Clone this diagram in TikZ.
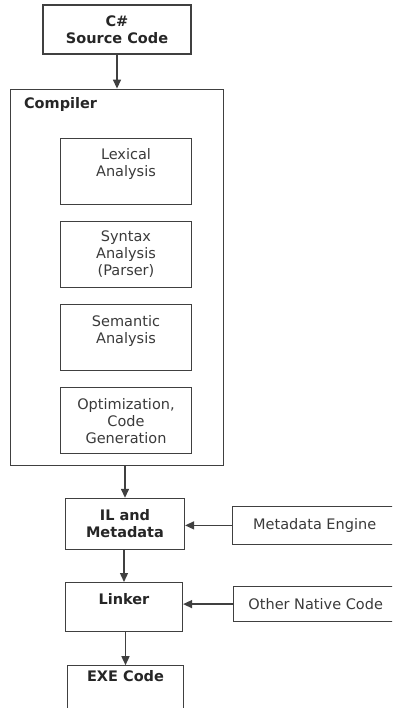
\documentclass[tikz,border=0pt]{standalone}
\usepackage{fontspec}
\setmainfont{DejaVu Sans}
\usepackage{xcolor}
\usetikzlibrary{arrows.meta,positioning}
\definecolor{ink}{HTML}{3A3A3A}
\definecolor{edge}{HTML}{404040}

\begin{document}
\begin{tikzpicture}[
    x=1pt, y=1pt,
    font=\fontsize{14.5}{17}\selectfont,
    block/.style={
        draw=edge,
        line width=1.2pt,
        align=center,
        inner sep=0pt,
        text=black!85,
        font=\fontsize{14.5}{17}\selectfont\bfseries,
        fill=white
    },
    phase/.style={
        draw=edge,
        line width=1.2pt,
        align=center,
        inner sep=0pt,
        text=ink,
        minimum width=131pt,
        minimum height=66pt
    },
    source/.style={
        draw=edge,
        line width=1.2pt,
        align=center,
        inner sep=0pt,
        text=ink,
        minimum width=164pt
    },
    arrow/.style={-{Triangle[length=9pt,width=8pt]},line width=1.4pt,draw=edge}
]
\useasboundingbox (0,0) rectangle (392,-708);
\clip (0,0) rectangle (392,-708);

\node[block, minimum width=148pt, minimum height=49pt] (src) at (117,-29.5) {C\#\\Source Code};

\node[draw=edge, line width=1.2pt, minimum width=213pt, minimum height=376pt,
      below=34pt of src] (comp) {};
\node[anchor=west, inner sep=0pt, font=\fontsize{14.5}{17}\selectfont\bfseries, text=black!85]
      (complabel) at ([xshift=14pt,yshift=-16pt]comp.north west) {Compiler};

\node[phase, below=49pt of comp.north, xshift=9pt] (lex) {Lexical\\Analysis\\\mbox{}};
\node[phase, below=16pt of lex] (syn) {Syntax\\Analysis\\(Parser)};
\node[phase, below=16pt of syn] (sem) {Semantic\\Analysis\\\mbox{}};
\node[phase, below=16pt of sem] (opt) {Optimization,\\Code\\Generation};

\node[block, minimum width=119pt, minimum height=51pt,
      below=32pt of comp.south, xshift=8pt] (il) {IL and\\Metadata};
\node[block, minimum width=117pt, minimum height=49pt,
      below=32pt of il, xshift=-1pt] (lnk) {Linker\\\mbox{}};
\node[block, minimum width=116pt, minimum height=55pt,
      below=33pt of lnk, xshift=1.5pt] (exe) {EXE Code\\\mbox{}\\\mbox{}};

\node[source, minimum height=38pt, right=47pt of il, yshift=-1.5pt] (me) {Metadata Engine};
\node[source, minimum height=35pt, right=50pt of lnk, yshift=3pt] (onc) {Other Native Code};

\draw[arrow] (src) -- (src |- comp.north);
\draw[arrow] (il |- comp.south) -- (il);
\draw[arrow] (lnk |- il.south) -- (lnk);
\draw[arrow] (exe |- lnk.south) -- (exe);

\draw[arrow] (me.west) -- (me.west -| il.east);
\draw[arrow] (onc.west) -- (onc.west -| lnk.east);

\end{tikzpicture}
\end{document}
